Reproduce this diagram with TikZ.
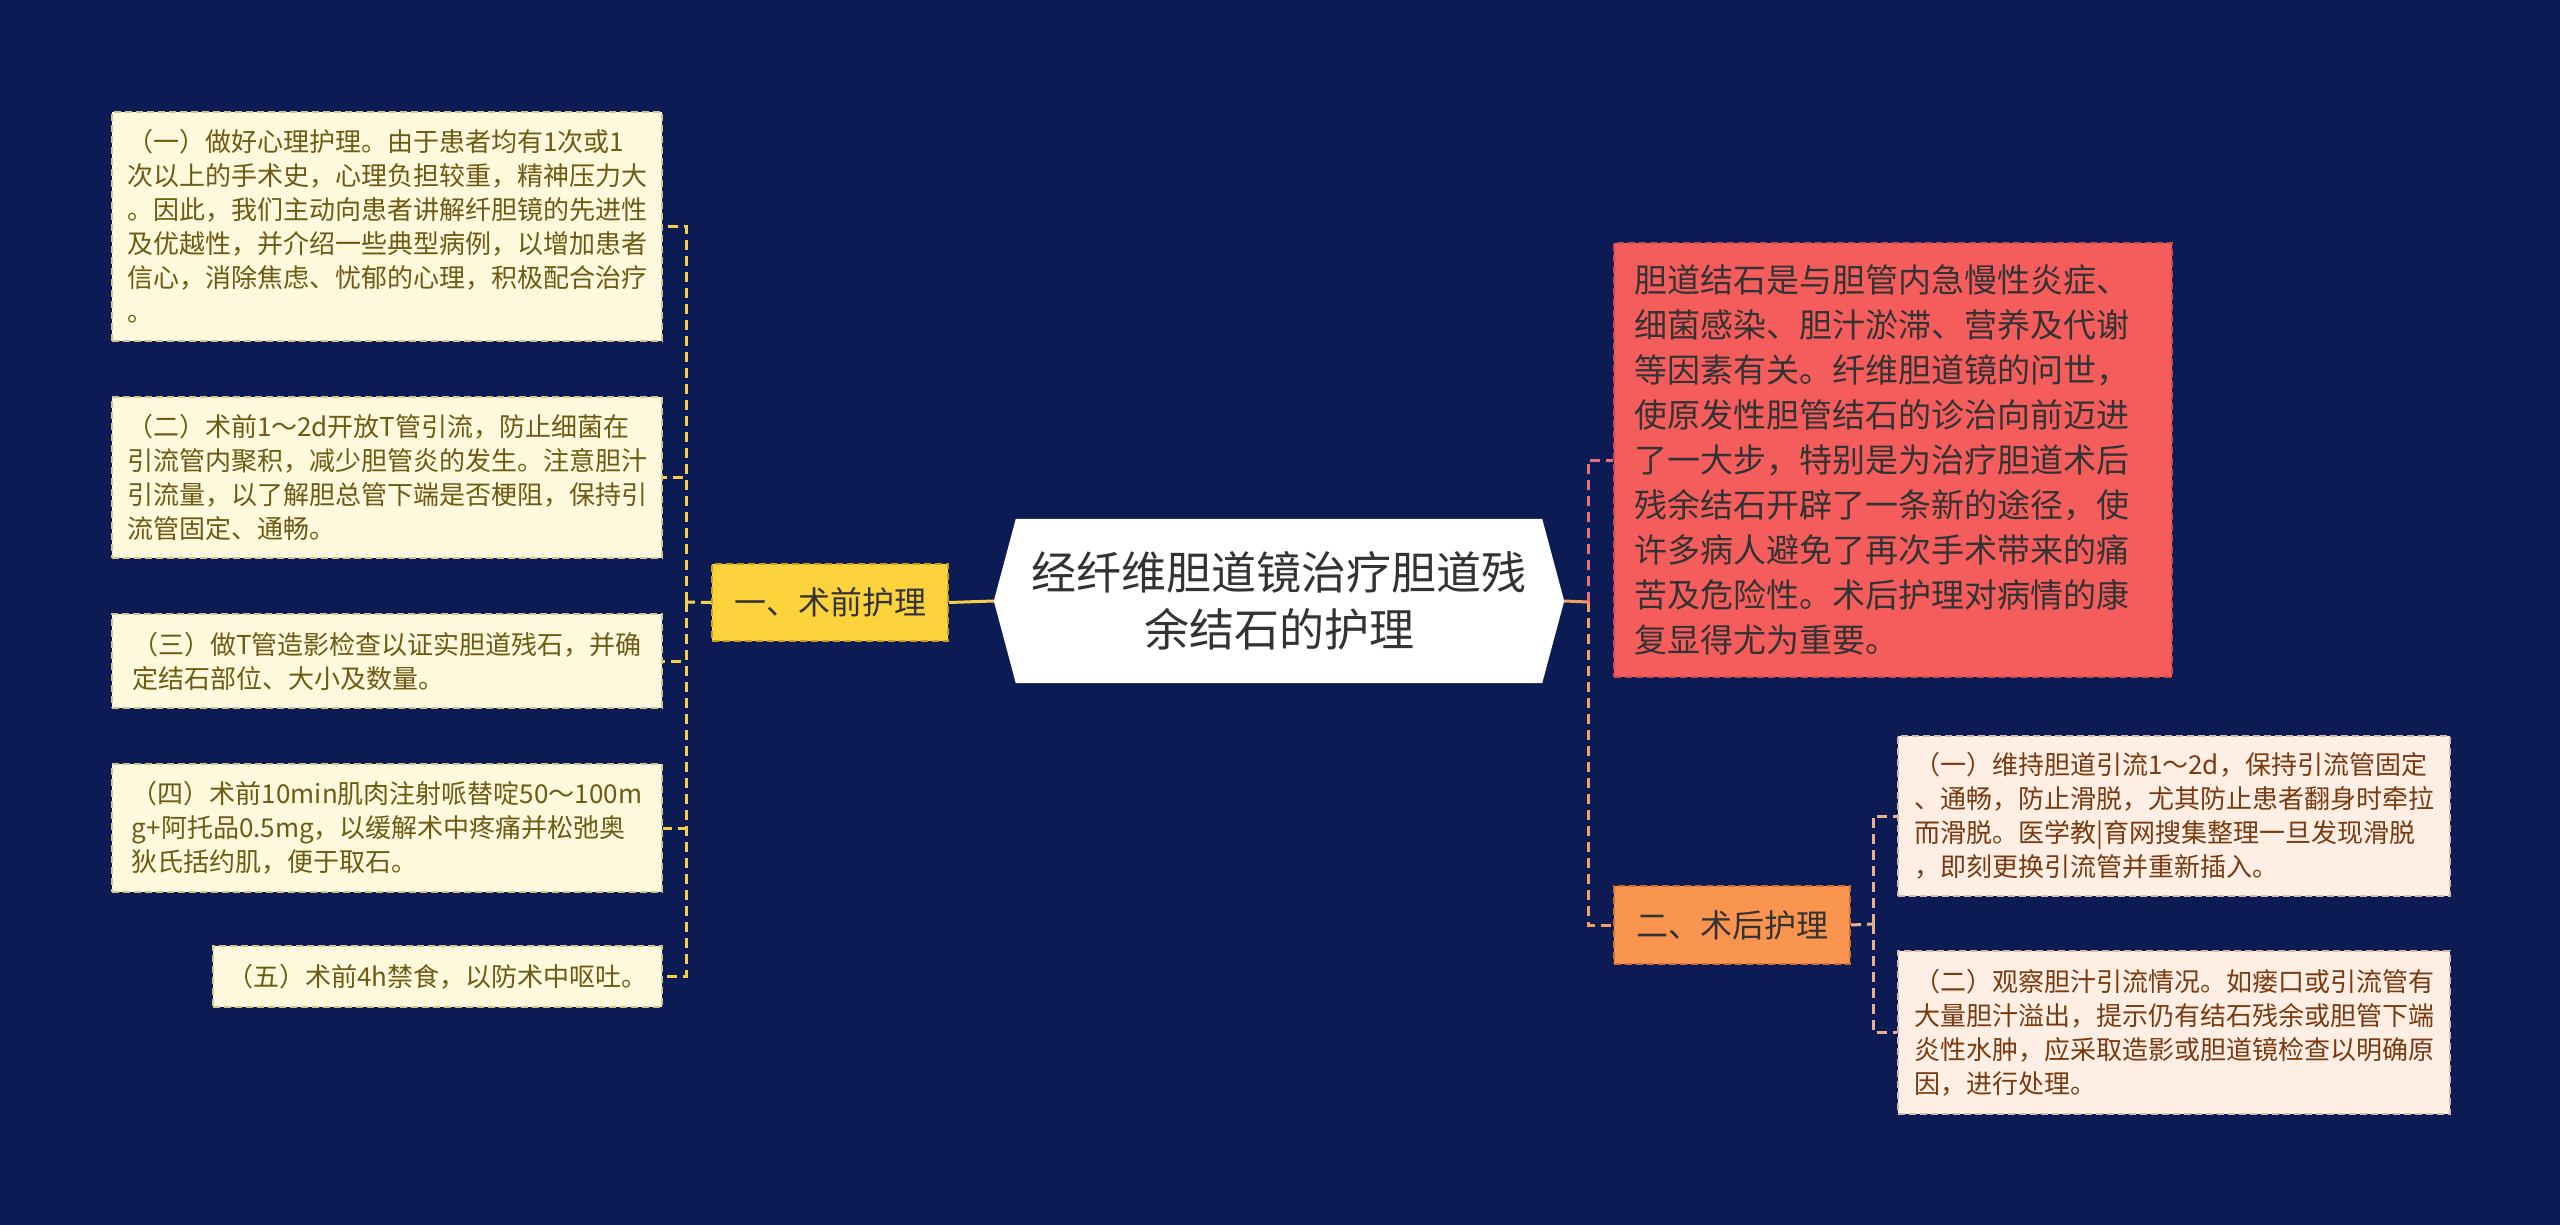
\documentclass[tikz,border=0pt]{standalone}
\usepackage{fontspec}
\setmainfont{Noto Sans CJK SC}
\usetikzlibrary{backgrounds}
\definecolor{bg}{HTML}{0C1B54}
\definecolor{lfill}{HTML}{FEF8DC}
\definecolor{ldraw}{HTML}{D4C48A}
\definecolor{ltext}{HTML}{6E5A12}
\definecolor{yfill}{HTML}{FCD33C}
\definecolor{ydraw}{HTML}{C9A020}
\definecolor{yline}{HTML}{F5CF4A}
\definecolor{rfill}{HTML}{F55D5D}
\definecolor{rdraw}{HTML}{C94A4A}
\definecolor{rline}{HTML}{E86E80}
\definecolor{ofill}{HTML}{FA9550}
\definecolor{odraw}{HTML}{D07030}
\definecolor{oline}{HTML}{F2A060}
\definecolor{sfill}{HTML}{FEEEE4}
\definecolor{sdraw}{HTML}{D8B8A8}
\definecolor{stext}{HTML}{7A3A10}
\definecolor{sline}{HTML}{E8B090}
\definecolor{darktext}{HTML}{333333}
\begin{document}
\begin{tikzpicture}[x=1pt,y=-1pt,
  boxbase/.style={anchor=north west, inner sep=0pt, line width=2pt, dash pattern=on 7pt off 4pt, align=left},
  lbox/.style={boxbase, fill=lfill, draw=ldraw, text=ltext, font=\fontsize{26}{34}\selectfont},
  sbox/.style={boxbase, fill=sfill, draw=sdraw, text=stext, font=\fontsize{26}{34}\selectfont},
  rbox/.style={boxbase, fill=rfill, draw=rdraw, text=darktext, font=\fontsize{33}{45}\selectfont},
  ynode/.style={boxbase, fill=yfill, draw=ydraw, text=darktext, font=\fontsize{32}{40}\selectfont},
  onode/.style={boxbase, fill=ofill, draw=odraw, text=darktext, font=\fontsize{32}{40}\selectfont},
  conn/.style={line width=3pt, dash pattern=on 10pt off 6pt},
  lconn/.style={conn, draw=yline},
  rconn/.style={conn, draw=rline},
  oconn/.style={conn, draw=oline},
  sconn/.style={conn, draw=sline}
]
\begin{scope}[on background layer]
  \path[fill=bg] (0,0) rectangle (2560,1225);
\end{scope}

% central topic
\node[inner sep=0pt, minimum width=570pt, minimum height=164pt, align=center,
      text=darktext, font=\fontsize{45}{57}\selectfont] (c) at (1279,601)
  {经纤维胆道镜治疗胆道残\\余结石的护理};
\begin{scope}[on background layer]
  \fill[white] (c.west) -- ([xshift=22pt]c.north west) -- ([xshift=-22pt]c.north east)
    -- (c.east) -- ([xshift=-22pt]c.south east) -- ([xshift=22pt]c.south west) -- cycle;
\end{scope}

% left branch
\node[ynode, minimum width=236pt, minimum height=77pt] (n1) at (711,563) {一、术前护理};

\node[lbox, minimum width=550pt, minimum height=229pt] (l1) at (111,111)
  {（一）做好心理护理。由于患者均有1次或1\\次以上的手术史，心理负担较重，精神压力大\\。因此，我们主动向患者讲解纤胆镜的先进性\\及优越性，并介绍一些典型病例，以增加患者\\信心，消除焦虑、忧郁的心理，积极配合治疗\\。};
\node[lbox, minimum width=550pt, minimum height=161pt] (l2) at (111,396)
  {（二）术前1～2d开放T管引流，防止细菌在\\引流管内聚积，减少胆管炎的发生。注意胆汁\\引流量，以了解胆总管下端是否梗阻，保持引\\流管固定、通畅。};
\node[lbox, minimum width=550pt, minimum height=94pt] (l3) at (111,613)
  {（三）做T管造影检查以证实胆道残石，并确\\定结石部位、大小及数量。};
\node[lbox, minimum width=550pt, minimum height=128pt] (l4) at (111,763)
  {（四）术前10min肌肉注射哌替啶50～100m\\g+阿托品0.5mg，以缓解术中疼痛并松弛奥\\狄氏括约肌，便于取石。};
\node[lbox, minimum width=449pt, minimum height=61pt] (l5) at (212,945)
  {（五）术前4h禁食，以防术中呕吐。};

% right branch
\node[rbox, minimum width=558pt, minimum height=434pt, text width=518pt, inner xsep=20pt] (r) at (1613,242)
  {胆道结石是与胆管内急慢性炎症、\\细菌感染、胆汁淤滞、营养及代谢\\等因素有关。纤维胆道镜的问世，\\使原发性胆管结石的诊治向前迈进\\了一大步，特别是为治疗胆道术后\\残余结石开辟了一条新的途径，使\\许多病人避免了再次手术带来的痛\\苦及危险性。术后护理对病情的康\\复显得尤为重要。};
\node[onode, minimum width=236pt, minimum height=78pt] (n2) at (1613,885) {二、术后护理};
\node[sbox, minimum width=552pt, minimum height=160pt] (s1) at (1897,735)
  {（一）维持胆道引流1～2d，保持引流管固定\\、通畅，防止滑脱，尤其防止患者翻身时牵拉\\而滑脱。医学教|育网搜集整理一旦发现滑脱\\，即刻更换引流管并重新插入。};
\node[sbox, minimum width=552pt, minimum height=163pt] (s2) at (1897,950)
  {（二）观察胆汁引流情况。如瘘口或引流管有\\大量胆汁溢出，提示仍有结石残余或胆管下端\\炎性水肿，应采取造影或胆道镜检查以明确原\\因，进行处理。};

% connectors
\coordinate (lv) at (686,602);
\coordinate (rv) at (1588,602);
\coordinate (sv) at (1873,924);

\draw[line width=3pt, draw=yline] (c.west) -- (n1.east);
\draw[lconn] (n1.west) -- (lv);
\draw[lconn] (lv) |- (l1.east);
\draw[lconn] (lv) |- (l2.east);
\draw[lconn] (lv) |- (l3.east);
\draw[lconn] (lv) |- (l4.east);
\draw[lconn] (lv) |- (l5.east);

\draw[line width=3pt, draw=oline] (c.east) -- (rv);
\draw[rconn] (rv) |- (r.west);
\draw[oconn] (rv) |- (n2.west);
\draw[sconn] (n2.east) -- (sv);
\draw[sconn] (sv) |- (s1.west);
\draw[sconn] (sv) |- (s2.west);
\end{tikzpicture}
\end{document}
